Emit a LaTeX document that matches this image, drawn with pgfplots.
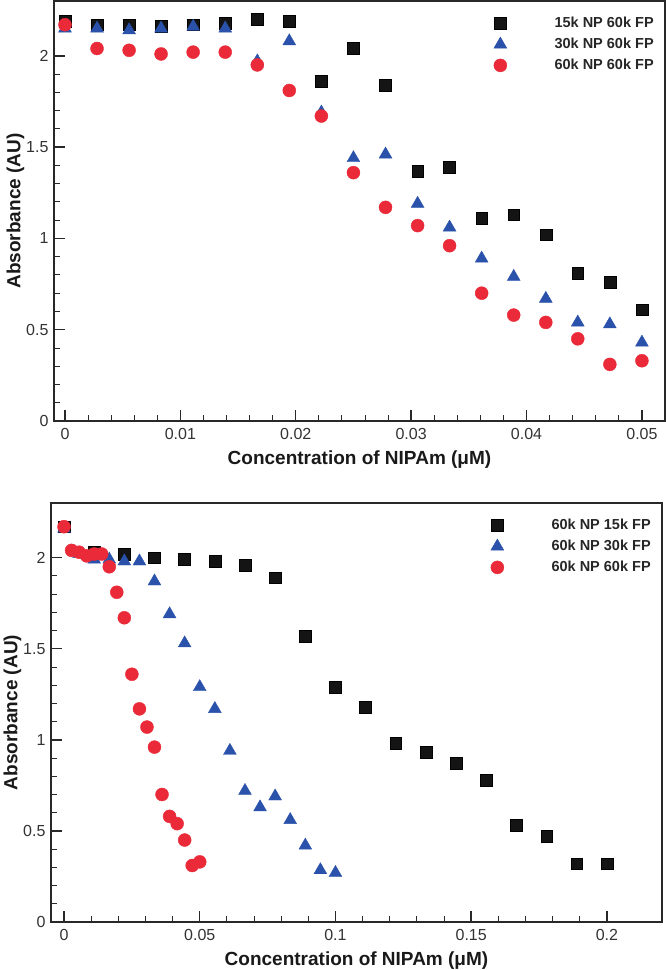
\documentclass[border=0pt]{standalone}
\usepackage{fontspec}
\setmainfont{Liberation Sans}
\usepackage{pgfplots}
\pgfplotsset{compat=1.18}
\definecolor{mkblue}{RGB}{43,82,170}
\definecolor{mkred}{RGB}{234,42,56}
\definecolor{axgray}{RGB}{40,40,40}

\pgfplotsset{
  absplot/.style={
    scale only axis, width=611pt, height=420pt,
    ymin=0, ymax=2.3,
    ytick={0,0.5,1,1.5,2},
    minor x tick num=4, minor y tick num=4,
    tick align=inside, xtick pos=left, ytick pos=left,
    major tick length=11pt, minor tick length=6pt,
    axis line style={line width=1.5pt, axgray},
    major tick style={line width=1.5pt, axgray},
    minor tick style={line width=0.9pt, axgray},
    tick label style={font=\fontsize{16}{18}\selectfont, text=black!80},
    /pgf/number format/assume math mode=true,
    scaled x ticks=false,
    xticklabel style={/pgf/number format/fixed, /pgf/number format/precision=2, yshift=-4pt},
    yticklabel style={xshift=-2pt},
    label style={font=\bfseries\fontsize{19}{21}\selectfont, text=black!90},
    xlabel style={yshift=-4pt},
    ylabel shift=-5pt,
    xlabel={Concentration of NIPAm (μM)},
    ylabel={Absorbance (AU)},
    legend style={draw=none, fill=none, font=\bfseries\fontsize{14.5}{17}\selectfont,
      at={(0.99,0.971)}, anchor=north east, text=black!85, row sep=5pt},
    legend cell align=left,
    legend image code/.code={\path (-7pt,0pt) (52pt,0pt);
      \draw[mark repeat=2,mark phase=2,#1]
      plot coordinates {(-7pt,0pt) (0pt,0pt) (52pt,0pt)};},
  },
  sqm/.style={only marks, mark=square*, mark size=5.9pt, black, mark options={draw=none, fill=black!92}},
  trm/.style={only marks, mark=triangle*, mark size=7.4pt, mkblue, mark options={draw=none, fill=mkblue}},
  cim/.style={only marks, mark=*, mark size=6.5pt, mkred, mark options={draw=none, fill=mkred}},
}

\begin{document}
\begin{tikzpicture}
% top panel: varying NP size, 60k FP
\begin{axis}[absplot, at={(0pt,0pt)},
  xmin=-0.00095, xmax=0.052,
  xtick={0,0.01,0.02,0.03,0.04,0.05}]
\addplot[sqm] coordinates {
  (0,2.19)(0.00278,2.17)(0.00556,2.17)(0.00833,2.16)(0.01111,2.17)(0.01389,2.18)
  (0.01667,2.20)(0.01944,2.19)(0.02222,1.86)(0.025,2.04)(0.02778,1.84)(0.03056,1.37)
  (0.03333,1.39)(0.03611,1.11)(0.03889,1.13)(0.04167,1.02)(0.04444,0.81)(0.04722,0.76)(0.05,0.61)
};
\addlegendentry{15k NP 60k FP}
\addplot[trm] coordinates {
  (0,2.15)(0.00278,2.15)(0.00556,2.14)(0.00833,2.15)(0.01111,2.16)(0.01389,2.15)
  (0.01667,1.97)(0.01944,2.08)(0.02222,1.69)(0.025,1.44)(0.02778,1.46)(0.03056,1.19)
  (0.03333,1.06)(0.03611,0.89)(0.03889,0.79)(0.04167,0.67)(0.04444,0.54)(0.04722,0.53)(0.05,0.43)
};
\addlegendentry{30k NP 60k FP}
\addplot[cim] coordinates {
  (0,2.17)(0.00278,2.04)(0.00556,2.03)(0.00833,2.01)(0.01111,2.02)(0.01389,2.02)
  (0.01667,1.95)(0.01944,1.81)(0.02222,1.67)(0.025,1.36)(0.02778,1.17)(0.03056,1.07)
  (0.03333,0.96)(0.03611,0.70)(0.03889,0.58)(0.04167,0.54)(0.04444,0.45)(0.04722,0.31)(0.05,0.33)
};
\addlegendentry{60k NP 60k FP}
\end{axis}

% bottom panel: 60k NP, varying FP size
\begin{axis}[absplot, at={(-3pt,-501pt)}, height=419pt,
  xmin=-0.0048, xmax=0.2203,
  xtick={0,0.05,0.1,0.15,0.2}]
\addplot[sqm] coordinates {
  (0,2.17)(0.0111,2.03)(0.0222,2.02)(0.0333,2.00)(0.0444,1.99)(0.0556,1.98)
  (0.0667,1.96)(0.0778,1.89)(0.0889,1.57)(0.1,1.29)(0.1111,1.18)(0.1222,0.98)
  (0.1333,0.93)(0.1444,0.87)(0.1556,0.78)(0.1667,0.53)(0.1778,0.47)(0.1889,0.32)(0.2,0.32)
};
\addlegendentry{60k NP 15k FP}
\addplot[trm] coordinates {
  (0,2.16)(0.00556,2.02)(0.01111,1.99)(0.01667,1.99)(0.02222,1.98)(0.02778,1.98)
  (0.03333,1.87)(0.03889,1.69)(0.04444,1.53)(0.05,1.29)(0.05556,1.17)(0.06111,0.94)
  (0.06667,0.72)(0.07222,0.63)(0.07778,0.69)(0.08333,0.56)(0.08889,0.42)(0.09444,0.285)(0.1,0.27)
};
\addlegendentry{60k NP 30k FP}
\addplot[cim] coordinates {
  (0,2.17)(0.00278,2.04)(0.00556,2.03)(0.00833,2.01)(0.01111,2.02)(0.01389,2.02)
  (0.01667,1.95)(0.01944,1.81)(0.02222,1.67)(0.025,1.36)(0.02778,1.17)(0.03056,1.07)
  (0.03333,0.96)(0.03611,0.70)(0.03889,0.58)(0.04167,0.54)(0.04444,0.45)(0.04722,0.31)(0.05,0.33)
};
\addlegendentry{60k NP 60k FP}
\end{axis}
\pgfresetboundingbox
\path[use as bounding box] (-54pt,-549pt) rectangle (612pt,421pt);
\end{tikzpicture}
\end{document}
